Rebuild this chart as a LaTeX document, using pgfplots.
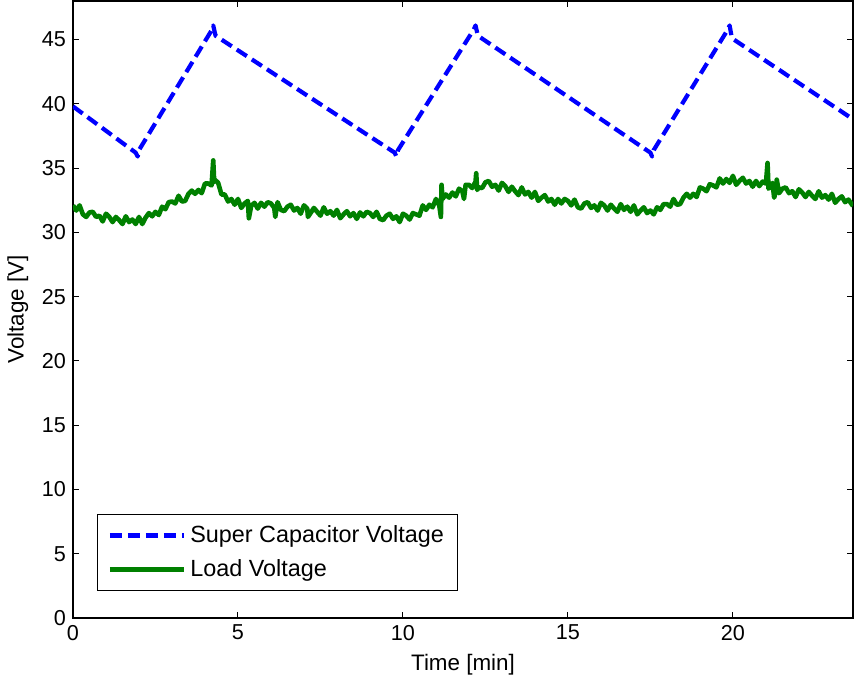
\documentclass[border=0pt]{standalone}
\usepackage{fontspec}
\setmainfont{Liberation Sans}
\usepackage{pgfplots}
\pgfplotsset{compat=1.18}
\definecolor{mblue}{rgb}{0,0,1}
\definecolor{mgreen}{rgb}{0,0.5,0}
\begin{document}
\begin{tikzpicture}
\begin{axis}[
  scale only axis,
  width=390pt, height=308.5pt,
  xmin=0, xmax=23.64, ymin=0, ymax=48,
  xtick={0,5,...,20}, ytick={0,5,...,45},
  tick align=inside, major tick length=3pt,
  tick style={black, line width=0.5pt},
  axis line style={line width=0.6pt},
  /pgf/number format/assume math mode=true,
  ticklabel style={font=\fontsize{10.8}{12}\selectfont},
  label style={font=\fontsize{11.2}{13}\selectfont},
  xlabel={Time [min]}, ylabel={Voltage [V]},
  legend cell align=left,
  legend style={at={(axis description cs:0.031,0.044)}, anchor=south west,
    draw=black, line width=0.5pt, font=\fontsize{11.7}{13}\selectfont,
    inner xsep=5pt, inner ysep=3.5pt, row sep=3pt},
  legend image code/.code={\draw[#1] (0pt,0pt) -- (37pt,0pt);},
]
\addplot[mblue, line width=2.1pt, dash pattern=on 6pt off 3pt, line join=round] coordinates {
(0,39.8) (1.9,36.2) (1.96,35.9) (2.0,36.4) (4.22,45.8) (4.25,46.1) (4.32,45.3)
(9.75,36.2) (9.8,35.9) (9.85,36.4) (12.15,45.8) (12.2,46.1) (12.27,45.3)
(17.5,36.2) (17.55,35.9) (17.6,36.4) (19.85,45.8) (19.9,46.1) (19.97,45.1) (23.64,38.8)
};
\addlegendentry{Super Capacitor Voltage}
\addplot[mgreen, line width=2.3pt, line join=round] coordinates {
(0.0,32.1) (0.1,31.7) (0.2,32.1) (0.3,31.4) (0.4,31.2) (0.5,31.55) (0.6,31.6) (0.7,31.2) (0.8,31.3) (0.9,30.85)
(1.0,31.45) (1.1,31.2) (1.2,30.8) (1.3,31.2) (1.4,30.95) (1.5,30.65) (1.6,31.25) (1.7,30.8) (1.8,31.0) (1.9,30.65)
(2.0,31.2) (2.1,30.65) (2.2,31.15) (2.3,31.5) (2.4,31.25) (2.5,31.6) (2.6,31.35) (2.7,32.0) (2.8,31.8) (2.9,32.35)
(3.0,32.4) (3.1,32.25) (3.2,32.85) (3.3,32.4) (3.4,32.45) (3.5,33.0) (3.6,33.25) (3.7,33.0) (3.8,33.3) (3.9,33.05)
(4.0,33.8) (4.1,33.8) (4.2,33.65) (4.25,35.6) (4.28,33.9) (4.3,34.1) (4.4,33.85) (4.5,32.95) (4.6,32.95) (4.7,32.4)
(4.8,32.6) (4.9,32.15) (5.0,32.6) (5.1,31.9) (5.2,32.25) (5.3,32.45) (5.33,31.1) (5.4,32.05) (5.5,32.3) (5.6,31.85)
(5.7,32.3) (5.8,32.0) (5.9,32.35) (6.0,32.25) (6.1,31.9) (6.13,31.2) (6.2,32.35) (6.3,31.75) (6.4,31.65) (6.5,32.0)
(6.6,32.15) (6.7,31.7) (6.8,31.9) (6.9,31.45) (7.0,32.1) (7.1,31.85) (7.12,31.2) (7.2,31.5) (7.3,31.9) (7.4,31.6)
(7.5,31.3) (7.6,31.95) (7.7,31.45) (7.8,31.65) (7.9,31.3) (8.0,31.75) (8.1,31.1) (8.2,31.4) (8.3,31.65) (8.4,31.25)
(8.5,31.5) (8.6,31.05) (8.7,31.55) (8.8,31.25) (8.9,31.6) (9.0,31.5) (9.1,31.2) (9.2,31.6) (9.3,31.05) (9.4,30.95)
(9.5,31.3) (9.6,31.45) (9.7,31.05) (9.8,31.25) (9.9,30.8) (10.0,31.45) (10.1,31.3) (10.2,31.0) (10.3,31.5) (10.4,31.4)
(10.5,31.3) (10.6,32.1) (10.7,31.75) (10.8,32.15) (10.9,31.95) (11.0,32.6) (11.1,32.1) (11.15,31.2) (11.17,33.7) (11.2,32.6)
(11.3,32.95) (11.4,32.7) (11.5,33.1) (11.6,32.8) (11.7,33.4) (11.8,33.2) (11.85,32.6) (11.9,33.7) (12.0,33.7) (12.1,33.45)
(12.2,33.95) (12.22,34.6) (12.25,33.3) (12.3,33.5) (12.4,33.45) (12.5,33.9) (12.6,34.0) (12.7,33.55) (12.8,33.7) (12.9,33.25)
(13.0,33.85) (13.1,33.6) (13.2,33.15) (13.3,33.55) (13.4,33.2) (13.5,32.9) (13.6,33.5) (13.7,32.95) (13.8,33.15) (13.9,32.7)
(14.0,33.15) (14.1,32.45) (14.2,32.7) (14.3,32.9) (14.4,32.4) (14.5,32.6) (14.6,32.15) (14.7,32.6) (14.8,32.25) (14.9,32.6)
(15.0,32.45) (15.1,32.1) (15.2,32.55) (15.3,31.95) (15.4,31.85) (15.5,32.25) (15.6,32.35) (15.7,31.9) (15.8,32.1) (15.9,31.7)
(16.0,32.3) (16.1,32.1) (16.2,31.7) (16.3,32.15) (16.4,31.85) (16.5,31.6) (16.6,32.2) (16.7,31.75) (16.8,32.0) (16.9,31.6)
(17.0,32.1) (17.1,31.4) (17.2,31.7) (17.3,31.95) (17.4,31.5) (17.5,31.7) (17.6,31.4) (17.7,31.95) (17.8,31.75) (17.9,32.2)
(18.0,32.2) (18.1,32.0) (18.2,32.6) (18.3,32.15) (18.4,32.2) (18.5,32.7) (18.6,33.0) (18.7,32.7) (18.8,33.0) (18.9,32.75)
(19.0,33.5) (19.1,33.4) (19.2,33.2) (19.3,33.75) (19.4,33.65) (19.5,33.5) (19.6,34.2) (19.7,33.8) (19.8,34.15) (19.9,33.85)
(20.0,34.4) (20.1,33.7) (20.2,34.0) (20.3,34.25) (20.4,33.8) (20.5,34.0) (20.6,33.55) (20.7,34.0) (20.8,33.6) (20.9,33.95)
(21.0,33.8) (21.05,35.4) (21.08,33.4) (21.1,33.45) (21.2,33.85) (21.25,32.7) (21.3,33.2) (21.33,34.1) (21.4,33.05) (21.5,33.4)
(21.6,33.5) (21.7,33.05) (21.8,33.2) (21.9,32.75) (22.0,33.35) (22.1,33.1) (22.2,32.75) (22.3,33.15) (22.4,32.85) (22.5,32.6)
(22.6,33.2) (22.7,32.7) (22.8,32.9) (22.9,32.55) (23.0,33.0) (23.1,32.3) (23.2,32.6) (23.3,32.8) (23.4,32.35) (23.5,32.55)
(23.64,32.05)
};
\addlegendentry{Load Voltage}
\end{axis}
\pgfresetboundingbox
\path[use as bounding box] ([shift={(-36.5pt,-33.5pt)}]current axis.south west) rectangle ([shift={(1.5pt,0.5pt)}]current axis.north east);
\end{tikzpicture}
\end{document}
